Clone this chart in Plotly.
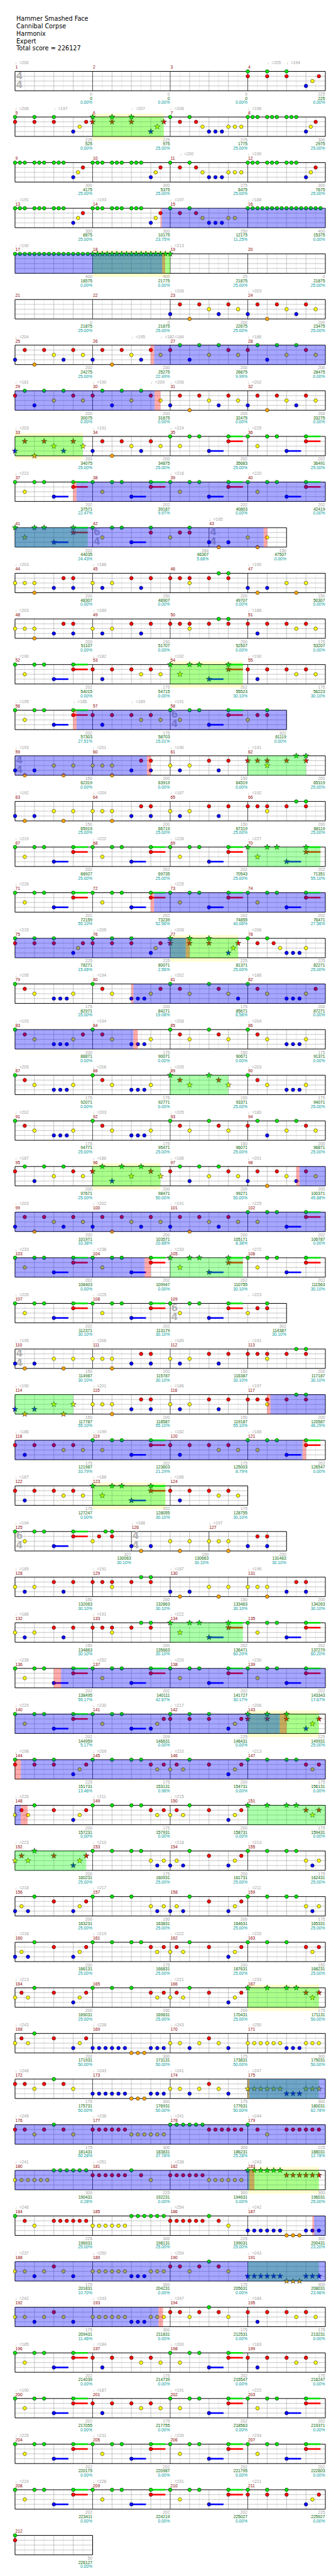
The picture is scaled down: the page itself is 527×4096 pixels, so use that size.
import plotly.graph_objects as go

# ---------------------------------------------------------------- data
TITLE_LINES = ["Hammer Smashed Face", "Cannibal Corpse", "Harmonix", "Expert",
               "Total score = 226127"]
N_MEASURES = 212
SIX_FOUR_MEASURES = [42, 58, 109, 125]
TIME_SIGNATURES = [(1, "4", "4"), (42, "6", "4"), (43, "4", "4"), (58, "6", "4"),
                   (59, "4", "4"), (109, "6", "4"), (110, "4", "4"), (125, "6", "4"),
                   (126, "4", "4")]

# note patterns: "beat:lanes[~sustain-beats]"
T3 = "0:GR 1:GR 2:GR 3:B 3.33:Y 3.67:R"
T4 = "0:GR 1:GR 2:GR 3:B 3.25:Y 3.5:R"
M7 = "0:G .5:R 1:G 1.33:R 1.67:Y 2:B 2.33:B 2.67:B 3:Y 3.33:Y 3.67:Y"
M15 = "0:G .5:R 1:G 1.33:R 1.67:Y 2:B 2.33:B 2.67:B 3:Y 3.33:Y"
M78 = "0:G .5:R 1:G 1.33:R 1.67:Y 2:B 2.33:B 2.67:B 3:Y"
G9 = "0:G .25:G .5:G 1:G 1.25:G 1.5:G 2:G 2.25:G 2.5:G 3:B 3.25:Y 3.5:R"
G16 = "0:G .25:G .5:G .75:G 1:G 1.25:G 1.5:G 1.75:G 2:G 2.25:G 2.5:G 2.75:G 3:G 3.25:G 3.5:G 3.75:G"
PA = "0:B .5:R 1:O 1.5:R 2:Y 2.5:B 3:R 3.5:Y"
PB = "0:R .5:G 1:B 1.5:G 2:Y 2.5:G 3:R 3.5:Y"
GP = "0:G .5:Y 1:G 1.5:G 2:B~.75 3:GR~.75"
G6 = "0:G .5:Y 1:G 1.5:G 2:B~.75 3:GR~.75 4:Y 4.5:R 5:GR"
G6T = "0:G .5:Y 1:G 1.5:G 2:B~.75 3:GR~.75 4:Y 4.33:R 4.67:G 5:GR"
M42 = "0:G .5:Y 1:G 1.5:G 2:B~.75 3:GR 4:Y 4.5:R 5:GR"
M141 = "0:G .5:Y 1:G 1.5:G 2:B~.75 3:B 3.33:Y 3.67:R"
PC = "0:B .5:O 1:B 2:Y 2.5:O 3:Y"
PD = "0:Y .5:Y 1:YO 2:B 2.5:R 3:RB"
PE = "0:Y .5:B 1:Y 2:R 2.5:B 3:R"
PF = "0:R .5:R 1:RY 2:R 2.5:G 3:GR"
PH = "0:R .5:B 1:R 2:R 2.5:Y 3:R 3.5:Y"
PI = "0:G .5:R 1:Y 2:B 2.33:B 2.67:B 3:Y"
PIR = "0:G .5:R 1:Y 2:B 2.33:B 2.67:B 3:Y 3.5:R"
PJ = "0:G .5:R 1:Y 2:G 2.5:R 3:Y"
PJB = "0:G .5:R 1:Y 2:G 2.5:R 3:Y 3.5:B"
QG = "0:G 1:G 2:G 2.5:G 3:R 3.33:Y 3.67:R"
QG3 = "0:G 1:G 2:G 3:R 3.33:Y 3.67:R"
QY = "0:Y .33:R .67:Y 1:G 2:R 3:B 3.33:Y 3.67:R"
QB = "0:B .33:Y .67:B 1:G 2:R 3:B 3.33:Y 3.67:R"
QGB = "0:G 1:G 2:G 2.5:G 3:Y 3.33:B 3.67:Y"
QGB3 = "0:G 1:G 2:G 3:Y 3.33:B 3.67:Y"
RB = "0:B .33:B .67:B 1:B 1.33:B 1.67:B 2:O 2.33:O 2.67:O 3:B 3.33:B 3.67:B"
RY = "0:Y .5:Y 1:B 1.5:Y 2:R 2.5:Y 3:B"
RYB = "0:Y .33:Y .67:Y 1:Y 1.33:Y 1.67:Y 2:B 2.33:B 2.67:B 3:Y 3.33:Y 3.67:Y"
RR = "0:R .5:R 1:Y 1.5:R 2:G 2.5:R 3:Y"
S177 = "0:R .33:R .67:R 1:R 1.33:R 1.67:R 2:Y 2.33:Y 2.67:Y 3:Y 3.33:Y 3.67:Y"
S178 = "0:G .33:G .67:G 1:G 1.33:G 1.67:G 2:R 2.33:R 2.67:R 3:R 3.33:R 3.67:R"
S179 = "0:G .5:R 1:Y 2:R 2.33:R 2.67:R 3:R 3.33:R 3.67:R"
S180 = "0:Y .33:Y .67:Y 1:Y 1.33:Y 1.67:Y 2:G 2.33:G 2.67:G 3:G 3.33:G 3.67:G"
S181 = "0:R .33:R .67:R 1:R 1.33:R 1.67:R 2:G 2.5:R 3:Y"

NOTES = {
    4: T3, 5: T3, 6: T3, 7: M7, 8: G9, 9: G9, 10: G9, 11: M7, 12: G9,
    13: G9, 14: G9, 15: M15, 16: G16, 17: G16, 18: G16, 19: "0:G",
    23: PA, 24: PA, 25: PA, 26: PA, 27: PB, 28: PB, 29: PB, 30: PB,
    31: PA, 32: PA, 33: PA, 34: PA, 35: GP, 36: GP, 37: GP, 38: GP,
    39: GP, 40: GP, 41: GP, 42: M42, 43: PC,
    44: PD, 45: PE, 46: PF, 47: PC, 48: PD, 49: PE, 50: PF, 51: PH,
    52: GP, 53: PH, 54: GP, 55: PH, 56: GP, 57: PH, 58: G6,
    59: PC, 60: PD, 61: PE, 62: PF, 63: PC, 64: PD, 65: PE, 66: PF,
    67: GP, 68: GP, 69: GP, 70: GP, 71: GP, 72: GP, 73: GP, 74: GP,
    75: T4, 76: T4, 77: T4, 78: M78, 79: PI, 80: PIR, 81: PJB, 82: PIR,
    83: PIR, 84: PI, 85: PJ, 86: PI, 87: PI, 88: PI, 89: PJ, 90: PI,
    91: PI, 92: PI, 93: PJ, 94: PB, 95: PB, 96: PB, 97: PB, 98: PA,
    99: PA, 100: PA, 101: PA, 102: GP, 103: GP, 104: GP, 105: GP, 106: GP,
    107: GP, 108: GP, 109: G6, 110: PC, 111: PD, 112: PE, 113: PF,
    114: PC, 115: PD, 116: PE, 117: PF, 118: PH, 119: GP, 120: PH, 121: GP,
    122: PH, 123: GP, 124: PH, 125: G6T, 126: PC, 127: PD,
    128: PE, 129: PF, 130: PC, 131: PD, 132: PE, 133: PF, 134: GP, 135: GP,
    136: GP, 137: GP, 138: GP, 139: GP, 140: GP, 141: M141, 142: T3, 143: T3,
    144: T3, 145: QG, 146: QY, 147: QG, 148: QY, 149: QG, 150: QY, 151: QG,
    152: QY, 153: QGB, 154: QB, 155: QGB, 156: QB, 157: QGB3, 158: QB, 159: QGB,
    160: QB, 161: QG, 162: QY, 163: QG3, 164: QY, 165: QG3, 166: QY, 167: QG,
    168: QY, 169: RB, 170: RY, 171: RYB, 172: RR, 173: RB, 174: RY, 175: RYB,
    176: RR, 177: S177, 178: S178, 179: S179, 180: S180, 181: S181, 182: S177, 183: S178,
    184: S179, 185: S180, 186: S181, 187: RB, 188: RY, 189: RYB, 190: RR, 191: RB,
    192: RY, 193: RYB, 194: RR, 195: PH, 196: GP, 197: PH, 198: GP, 199: PH,
    200: GP, 201: PH, 202: GP, 203: GP, 204: GP, 205: GP, 206: GP, 207: GP,
    208: GP, 209: GP, 210: GP, 211: T3, 212: "0:GR",
}

SCORES = [0, 0, 0, 225, 225, 225, 275, 300, 300, 300, 275, 300, 300, 300, 250, 400,
          400, 400, 25, 0, 0, 0, 200, 200, 200, 200, 200, 200, 200, 200, 200, 200,
          200, 200, 202, 202, 202, 202, 202, 202, 202, 284, 150, 200, 150, 200, 150,
          200, 150, 200, 175, 202, 175, 202, 175, 202, 175, 302, 150, 200, 150, 200,
          150, 200, 150, 200, 202, 202, 202, 202, 202, 202, 202, 202, 225, 225, 225, 225,
          175, 200, 175, 200, 200, 175, 150, 175, 175, 175, 150, 175, 175, 175, 150, 200,
          200, 200, 200, 200, 200, 200, 200, 202, 202, 202, 202, 202, 202, 202, 302,
          150, 200, 150, 200, 150, 200, 150, 200, 175, 202, 175, 202, 175, 202, 175,
          327, 150, 200, 150, 200, 150, 200, 150, 200, 202, 202, 202, 202, 202, 202,
          202, 209, 225, 225, 225, 175, 200, 175, 200, 175, 200, 175, 200, 175, 200, 175,
          200, 150, 200, 175, 200, 175, 200, 150, 200, 150, 200, 175, 200, 300, 175, 300,
          175, 300, 175, 300, 175, 300, 300, 225, 300, 225, 300, 300, 225, 300, 225, 300,
          175, 300, 175, 300, 175, 300, 175, 175, 202, 175, 202, 175, 202, 175, 202, 202,
          202, 202, 202, 202, 202, 202, 202, 225, 50]
CUMULATIVE = [0, 0, 0, 225, 525, 975, 1775, 2975, 4175, 5375, 6475, 7675, 8875, 10175,
              12175, 15375, 18575, 21775, 21875, 21875, 21875, 21875, 22675, 23475,
              24275, 25275, 26875, 28475, 30075, 31675, 32475, 33275, 34075, 34875,
              35683, 36491, 37571, 39187, 40803, 42419, 44035, 46307, 47507, 48307,
              48907, 49707, 50307, 51107, 51707, 52507, 53207, 54015, 54715, 55523,
              56223, 57303, 58703, 61119, 62319, 63919, 64519, 65319, 65919, 66719,
              67319, 68119, 68927, 69735, 70543, 71351, 72159, 73239, 74855, 76471,
              78271, 80071, 81371, 82271, 82971, 84271, 85671, 87271, 88871, 90071,
              90671, 91371, 92071, 92771, 93371, 94071, 94771, 95471, 96071, 96871,
              97671, 98471, 99271, 100371, 101971, 103571, 105171, 106787, 108403,
              109947, 110755, 111563, 112371, 113179, 114387, 114987, 115787, 116387,
              117187, 117787, 118587, 119187, 120587, 121987, 123603, 125003, 126547,
              127247, 128055, 128755, 130063, 130663, 131463, 132063, 132863, 133463,
              134263, 134863, 135663, 136471, 137279, 138495, 140111, 141727, 143343,
              144959, 146631, 148431, 149931, 151731, 153131, 154731, 156131, 157231,
              157931, 158731, 159431, 160231, 160931, 161731, 162431, 163231, 163831,
              164631, 165331, 166131, 166831, 167631, 168231, 169031, 169631, 170431,
              171131, 171931, 173131, 173831, 175031, 175731, 176931, 177631, 180031,
              181431, 183831, 186231, 188031, 190431, 192231, 194631, 196031, 196931,
              198131, 199031, 200431, 201831, 204231, 205631, 208031, 209431, 211831,
              212531, 213231, 214039, 214739, 215547, 216247, 217055, 217755, 218563,
              219371, 220179, 220987, 221795, 222603, 223411, 224219, 225027, 225927,
              226127]
PERCENT = [0, 0, 0, 0, 0, 25, 25, 25, 25, 25, 25, 25, 25, 23.75, 11.25, 0,
           0, 0, 25, 25, 25, 25, 25, 25, 25, 22.49, 9.99, 0, 0, 0, 0, 0,
           25, 25, 25, 25, 22.47, 9.97, 0, 0, 24.43, 5.68, 0, 0, 0, 0, 0,
           0, 0, 0, 0, 0, 0, 30.10, 30.10, 27.51, 15.01, 0, 0, 0, 0, 25,
           25, 25, 25, 25, 25, 25, 25, 55.10, 55.10, 52.56, 40.06, 27.56,
           15.06, 2.56, 25, 25, 25, 19.08, 6.58, 0, 0, 0, 0, 0, 0, 0, 25, 25,
           25, 25, 25, 25, 25, 50, 50, 45.88, 33.38, 20.88, 8.38, 0, 0, 0, 30.10, 30.10,
           30.10, 30.10, 30.10, 30.10, 30.10, 30.10, 30.10, 55.10, 55.10, 55.10, 46.29,
           33.79, 21.29, 8.79, 0, 0, 30.10, 30.10, 30.10, 30.10, 30.10,
           30.10, 30.10, 30.10, 30.10, 30.10, 30.10, 60.20, 60.20, 55.17, 42.67, 30.17, 17.67,
           5.17, 0, 0, 25, 13.46, 0.96, 0, 0, 0, 0, 0, 0, 25, 25, 25, 25,
           25, 25, 25, 25, 25, 25, 25, 25, 25, 25, 25, 50, 50, 50, 50, 50,
           50, 50, 50, 62.78, 50.28, 37.78, 25.28, 12.78, 0.28, 0, 0, 25,
           25, 25, 25, 23.20, 10.70, 0, 0, 23.96, 11.46, 0, 0, 0,
           0, 0, 0, 0, 0, 0, 0, 0, 0, 0, 0, 0, 0, 0, 0, 0, 0]
# (measure, beat, bpm)
TEMPOS = [(1, 0, 200), (4, 1, 205), (4, 2, 194), (5, 0, 206), (5, 2, 197), (6, 2, 207),
          (7, 0, 208), (8, 0, 196), (11, 0.5, 200), (12, 0, 190), (13, 0, 191), (14, 0, 193),
          (15, 0, 197), (16, 0, 188), (17, 0, 190), (19, 0, 213), (23, 0, 206), (24, 0, 203),
          (25, 0, 204), (26, 2, 195), (26, 3.5, 182), (27, 0, 184), (28, 0, 186),
          (29, 0, 181), (30, 0, 190), (30, 3, 209), (31, 0, 206), (32, 0, 202),
          (33, 0, 203), (34, 0, 191), (35, 0, 224), (36, 0, 225), (37, 0, 223), (39, 0, 218),
          (40, 0, 220), (43, 0, 195), (44, 0, 203), (45, 0, 188), (47, 0, 190), (48, 0, 203),
          (49, 0, 189), (51, 0, 186), (52, 0, 190), (53, 0, 182), (54, 0, 192), (55, 0, 190),
          (56, 0, 195), (56, 3, 185), (57, 2, 189), (58, 0, 191), (59, 0, 193), (60, 0, 201),
          (61, 0, 190), (62, 0, 191), (63, 0, 192), (64, 0, 204), (65, 0, 187), (66, 0, 192),
          (67, 0, 219), (68, 0, 222), (69, 0, 228), (70, 0, 227), (71, 0, 226), (73, 0, 225),
          (75, 0, 215), (76, 0, 205), (77, 0, 208), (78, 0, 206), (79, 0, 195), (80, 0, 194),
          (81, 0, 202), (82, 0, 186), (83, 0, 193), (84, 0, 194), (85, 0, 208), (86, 0, 204),
          (87, 0, 205), (88, 0, 206), (89, 0, 205), (90, 0, 203), (91, 0, 202), (92, 0, 203),
          (93, 0, 205), (94, 0, 180), (95, 0, 187), (96, 0, 186), (97, 0, 188), (98, 0, 201),
          (99, 0, 203), (100, 0, 202), (101, 0, 191), (102, 0, 225), (103, 0, 233),
          (104, 0, 238), (105, 0, 233), (106, 0, 272), (107, 0, 226), (108, 0, 225),
          (109, 4, 223), (110, 0, 195), (111, 0, 206), (112, 0, 189), (113, 0, 191),
          (114, 0, 190), (115, 0, 201), (116, 0, 186), (117, 0, 197), (118, 0, 186),
          (119, 0, 199), (120, 0, 182), (121, 0, 188), (122, 0, 187), (123, 0, 188),
          (124, 0, 186), (125, 0, 194), (126, 0, 188), (127, 0, 197), (128, 0, 189),
          (129, 0, 191), (130, 0, 187), (131, 0, 196), (132, 0, 186), (133, 0, 191),
          (134, 0, 222), (136, 0, 235), (137, 0, 252), (138, 0, 229), (139, 0, 230),
          (140, 0, 229), (141, 0, 230), (142, 0, 217), (143, 0, 206), (144, 0, 198),
          (145, 0, 209), (146, 0, 210), (147, 0, 213), (148, 0, 226), (149, 0, 211),
          (150, 0, 215), (152, 0, 223), (153, 0, 210), (154, 0, 218), (155, 0, 213),
          (156, 0, 218), (157, 0, 217), (159, 0, 211), (160, 0, 218), (161, 0, 219),
          (162, 0, 222), (163, 0, 220), (164, 0, 213), (166, 0, 221), (167, 0, 233),
          (168, 0, 243), (169, 0, 238), (170, 0, 243), (171, 0, 250), (172, 0, 248),
          (173, 0, 243), (174, 0, 241), (175, 0, 247), (176, 0, 245), (177, 0, 236),
          (178, 0, 241), (179, 0, 244), (180, 0, 241), (181, 0, 251), (182, 0, 238),
          (183, 0, 243), (184, 0, 246), (186, 0, 254), (187, 0, 242), (188, 0, 237),
          (189, 0, 250), (190, 0, 254), (191, 0, 243), (192, 0, 242), (193, 0, 243),
          (194, 0, 247), (195, 0, 184), (196, 0, 185), (197, 0, 184), (198, 0, 200),
          (199, 0, 183), (200, 0, 190), (201, 0, 187), (202, 0, 191), (203, 0, 222),
          (204, 0, 225), (205, 0, 231), (206, 0, 239), (207, 0, 234), (208, 0, 224),
          (209, 0, 228), (210, 0, 231), (211, 0, 221)]
# ranges: (start measure, start beat, end measure, end beat)
SP_PHRASES = [(6, 0, 6, 3.67), (18, 0, 19, 0), (33, 0, 33, 3.5), (41, 0, 41, 3.75),
              (54, 0, 54, 3.75), (62, 0, 62, 3), (70, 0, 70, 3.75), (77, 0, 77, 3.5),
              (89, 0, 89, 3), (96, 0, 96, 3.5), (105, 0, 105, 3.75), (114, 0, 114, 3),
              (123, 0, 123, 3.75), (134, 0, 134, 3.75), (143, 0, 143, 3.67),
              (151, 0, 152, 3.67), (167, 0, 167, 3.67), (175, 0, 175, 3.67),
              (183, 0, 183, 3.67), (191, 0, 191, 3.67)]
SP_HIGHLIGHTS = [(6, 0, 6, 3.67), (18, 0, 19, 0), (33, 0, 33, 3.5), (54, 0, 54, 3.75),
                 (77, 0, 77, 3.5), (96, 0, 96, 3.5), (123, 0, 123, 3.75), (143, 0, 143, 3.67),
                 (167, 0, 167, 3.67), (183, 0, 183, 3.67)]
ACTIVATIONS = [(14, 3.565, 18, 3.59), (26, 3.17, 30, 3.2), (37, 3.17, 43, 2.82),
               (56, 3.17, 60, 2.8), (72, 3.17, 77, 0.8), (80, 2.1, 84, 2.1),
               (98, 2.67, 104, 2.68), (117, 1.17, 121, 2.83), (136, 2.37, 143, 1.65),
               (144, 0.3, 148, 0.3), (175, 0.08, 183, 0.08), (187, 3.42, 193, 3.4)]
ACT_WINDOWS = [(14, 3.5, 14, 3.565), (18, 3.59, 18, 3.74), (26, 3.0, 26, 3.17),
               (30, 3.2, 30, 3.5), (37, 3.0, 37, 3.17), (43, 2.82, 43, 3.0),
               (56, 3.0, 56, 3.17), (60, 2.8, 60, 3.0), (72, 3.0, 72, 3.17),
               (77, 0.8, 77, 1.0), (80, 2.0, 80, 2.1), (84, 2.1, 84, 2.33),
               (98, 2.5, 98, 2.67), (104, 2.68, 104, 3.0), (117, 1.0, 117, 1.17),
               (121, 2.83, 121, 3.0), (136, 2.0, 136, 2.37), (143, 1.65, 143, 2.0),
               (144, 0, 144, 0.3), (148, 0.3, 148, 0.65), (175, 0, 175, 0.08),
               (183, 0.08, 183, 0.34), (187, 3.33, 187, 3.42), (193, 3.4, 193, 3.63)]

# ---------------------------------------------------------------- layout (reference px)
S = 527 / 1024.0
W_REF, H_REF = 1024, 7960
X0, BEAT_W, TOP0, PITCH, LANE = 31, 60, 205, 141, 15
LANE_OF = {"G": 0, "R": 1, "Y": 2, "B": 3, "O": 4}
NOTE_COL = {"G": "#00E000", "R": "#FF0000", "Y": "#FFFF00", "B": "#0000FF", "O": "#FFA500"}
FONT = "Liberation Sans Narrow, Liberation Sans, Arial, sans-serif"

beats = {m: (6 if m in SIX_FOUR_MEASURES else 4) for m in range(1, N_MEASURES + 1)}
rows, cur, cb = [], [], 0
for m in range(1, N_MEASURES + 1):
    if cur and cb + beats[m] > 16:
        rows.append((cur, cb))
        cur, cb = [], 0
    cur.append(m)
    cb += beats[m]
rows.append((cur, cb))

row_of, off, gstart, row_g = {}, {}, {}, []
g = 0
for k, (ms, tb) in enumerate(rows):
    row_g.append(g)
    o = 0
    for m in ms:
        row_of[m], off[m], gstart[m] = k, o, g + o
        o += beats[m]
    g += tb


def top(k):
    return TOP0 + PITCH * k


def xb(m, b):
    return X0 + BEAT_W * (off[m] + b)


fig = go.Figure()

# grid
lx, ly, gx, gy, kx, ky, bx, by = [], [], [], [], [], [], [], []
for k, (ms, tb) in enumerate(rows):
    t = top(k)
    bt = t + 4 * LANE
    xr = X0 + BEAT_W * tb
    for i in (1, 2, 3):
        gx += [X0, xr, None]
        gy += [t + i * LANE, t + i * LANE, None]
    bounds = {off[m] for m in ms if off[m] > 0}
    for hb in range(1, 2 * tb):
        xv = X0 + BEAT_W * hb / 2.0
        if hb % 2:
            lx += [xv, xv, None]
            ly += [t, bt, None]
        elif hb // 2 in bounds:
            kx += [xv, xv, None]
            ky += [t, bt, None]
        else:
            gx += [xv, xv, None]
            gy += [t, bt, None]
    bx += [X0, xr, xr, X0, X0, None]
    by += [t, t, bt, bt, t, None]

fig.add_trace(go.Scatter(x=lx, y=ly, mode="lines", line=dict(color="#DCDCDC", width=0.6),
                         hoverinfo="skip"))
fig.add_trace(go.Scatter(x=gx, y=gy, mode="lines", line=dict(color="#A0A0A0", width=0.6),
                         hoverinfo="skip"))
fig.add_trace(go.Scatter(x=kx, y=ky, mode="lines", line=dict(color="#000000", width=0.7),
                         hoverinfo="skip"))
fig.add_trace(go.Scatter(x=bx, y=by, mode="lines", line=dict(color="#000000", width=1.0),
                         hoverinfo="skip"))

# time signatures
tsx, tsy, tst = [], [], []
for m, a, b in TIME_SIGNATURES:
    t = top(row_of[m])
    tsx += [xb(m, 0) + 3, xb(m, 0) + 3]
    tsy += [t + 16, t + 45]
    tst += [a, b]
fig.add_trace(go.Scatter(x=tsx, y=tsy, text=tst, mode="text", textposition="middle right",
                         textfont=dict(family="DejaVu Sans", size=30 * S, color="#B4B4B4",
                                       weight="bold"),
                         hoverinfo="skip"))


# notes
def gpos(m, b):
    return gstart[m] + b


sp_g = [(gpos(a, b), gpos(c, d)) for a, b, c, d in SP_PHRASES]
circ = {c: ([], []) for c in "GRYBO"}
star = {c: ([], []) for c in "GRYBO"}
sus = {c: ([], []) for c in "GRYBO"}
for m in range(1, N_MEASURES + 1):
    s = NOTES.get(m, "")
    t = top(row_of[m])
    for tok in s.split():
        p, rest = tok.split(":")
        if "~" in rest:
            lanes, ln = rest.split("~")
            ln = float(ln)
        else:
            lanes, ln = rest, 0.0
        b = round(float(p) * 12) / 12.0
        gp = gpos(m, b)
        is_star = any(a - 1e-6 <= gp <= c + 1e-6 for a, c in sp_g)
        for ch in lanes:
            y = t + LANE * LANE_OF[ch]
            x = xb(m, b)
            tgt = star[ch] if is_star else circ[ch]
            tgt[0].append(x)
            tgt[1].append(y)
            if ln > 0:
                sus[ch][0].extend([x, xb(m, b + ln), None])
                sus[ch][1].extend([y, y, None])

for c in "GRYBO":
    if sus[c][0]:
        fig.add_trace(go.Scatter(x=sus[c][0], y=sus[c][1], mode="lines",
                                 line=dict(color=NOTE_COL[c], width=5 * S), hoverinfo="skip"))
for c in "GRYBO":
    if circ[c][0]:
        fig.add_trace(go.Scatter(x=circ[c][0], y=circ[c][1], mode="markers",
                                 marker=dict(color=NOTE_COL[c], size=11 * S, symbol="circle",
                                             line=dict(color="#000000", width=0.5)),
                                 hoverinfo="skip"))
    if star[c][0]:
        fig.add_trace(go.Scatter(x=star[c][0], y=star[c][1], mode="markers",
                                 marker=dict(color=NOTE_COL[c], size=13 * S, symbol="star",
                                             line=dict(color="#000000", width=0.5)),
                                 hoverinfo="skip"))

# texts
FS = 13 * S
mnx, mny, mnt = [], [], []
tpx, tpy, tpt = [], [], []
s1x, s1y, s1t, s2y, s2t, s3y, s3t = [], [], [], [], [], [], []
for m in range(1, N_MEASURES + 1):
    t = top(row_of[m])
    mnx.append(xb(m, 0) + 1)
    mny.append(t - 11.5)
    mnt.append(str(m))
    xe = xb(m, beats[m]) - 1
    s1x.append(xe)
    s1y.append(t + 60 + 11.5)
    s1t.append(str(SCORES[m - 1]))
    s2y.append(t + 60 + 24.5)
    s2t.append(str(CUMULATIVE[m - 1]))
    s3y.append(t + 60 + 37.5)
    s3t.append("%.2f%%" % PERCENT[m - 1])
for m, b, bpm in TEMPOS:
    t = top(row_of[m])
    tpx.append(xb(m, b))
    tpy.append(t - 25)
    tpt.append("\u2669=%d" % bpm)


def text_trace(x, y, txt, color, pos):
    return go.Scatter(x=x, y=y, text=txt, mode="text", textposition=pos,
                      textfont=dict(family=FONT, size=FS, color=color), hoverinfo="skip")


fig.add_trace(text_trace(mnx, mny, mnt, "#8B0000", "middle right"))
fig.add_trace(text_trace(tpx, tpy, tpt, "#A0A0A0", "middle right"))
fig.add_trace(text_trace(s1x, s1y, s1t, "#A0A0A0", "middle left"))
fig.add_trace(text_trace(s1x, s2y, s2t, "#006400", "middle left"))
fig.add_trace(text_trace(s1x, s3y, s3t, "#009B9B", "middle left"))

# range shapes
shapes = []


def add_ranges(ranges, fill, y0o, y1o, layer):
    for a, b, c, d in ranges:
        g1, g2 = gpos(a, b), gpos(c, d)
        for k, (ms, tb) in enumerate(rows):
            rs = row_g[k]
            re_ = rs + tb
            lo, hi = max(g1, rs), min(g2, re_)
            if hi > lo + 1e-9:
                shapes.append(dict(type="rect", xref="x", yref="y",
                                   x0=X0 + BEAT_W * (lo - rs), x1=X0 + BEAT_W * (hi - rs),
                                   y0=top(k) + y0o, y1=top(k) + y1o, fillcolor=fill,
                                   line=dict(width=0), layer=layer))


add_ranges(SP_HIGHLIGHTS, "#FFFFCC", -10, 71, "below")
add_ranges(SP_PHRASES, "rgba(0,255,0,0.33)", 0, 60, "above")
add_ranges(ACTIVATIONS, "rgba(0,0,255,0.35)", 0, 60, "above")
add_ranges(ACT_WINDOWS, "rgba(255,0,0,0.33)", 0, 60, "above")

annotations = []
for i, line in enumerate(TITLE_LINES):
    annotations.append(dict(x=29 if i == 4 else 31, y=42 + 23 * i, xref="x", yref="y",
                            text=line, showarrow=False, xanchor="left", yanchor="middle",
                            font=dict(family="DejaVu Sans", size=18.8 * S, color="#000000")))

fig.update_layout(
    width=527, height=4096, margin=dict(l=0, r=0, t=0, b=0),
    paper_bgcolor="white", plot_bgcolor="white", showlegend=False,
    xaxis=dict(range=[0, W_REF], visible=False, fixedrange=True),
    yaxis=dict(range=[H_REF, 0], visible=False, fixedrange=True),
    shapes=shapes, annotations=annotations,
)
fig.write_html("out.html", config={"displayModeBar": False})
